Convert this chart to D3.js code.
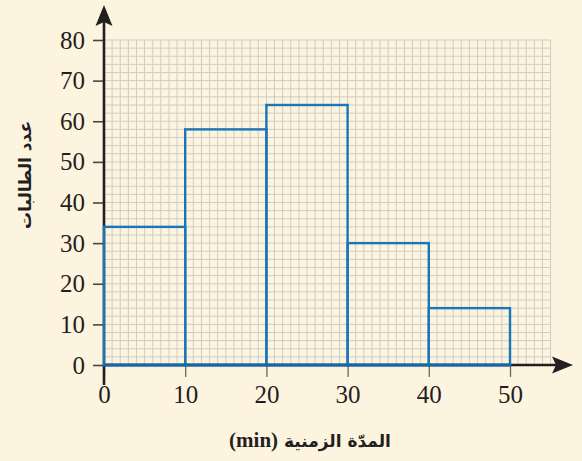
<!DOCTYPE html>
<html>
<head>
<meta charset="utf-8">
<script src="https://cdn.jsdelivr.net/npm/d3@7"></script>
<style>
  html, body { margin: 0; padding: 0; background: #fdf4e0; }
  svg { display: block; }
</style>
</head>
<body>
<svg id="chart" width="582" height="461"></svg>
<script>
// Histogram: duration classes (minutes) and number of students
const binStarts = [0, 10, 20, 30, 40];
const binWidth = 10;
const counts = [34, 58, 64, 30, 14];
const xTicks = [0, 10, 20, 30, 40, 50];
const yTicks = [0, 10, 20, 30, 40, 50, 60, 70, 80];
const xTitle = "المدّة الزمنية ";
const xUnit = "(min)";
const yTitle = "عدد الطالبات";

const svg = d3.select("#chart");
const W = 582, H = 461;
svg.append("rect").attr("width", W).attr("height", H).attr("fill", "#fdf4e0");

const x = d3.scaleLinear().domain([0, 55]).range([104, 550.6]);
const y = d3.scaleLinear().domain([0, 80]).range([365, 40]);

// Fine grid: 1 unit across, 2 units up
const grid = svg.append("g").attr("stroke", "#cfcbc6").attr("stroke-width", 1);
grid.selectAll("line.v").data(d3.range(0, 56, 1)).join("line")
  .attr("x1", d => x(d)).attr("x2", d => x(d))
  .attr("y1", y(80)).attr("y2", y(0));
grid.selectAll("line.h").data(d3.range(0, 81, 2)).join("line")
  .attr("x1", x(0)).attr("x2", x(55))
  .attr("y1", d => y(d)).attr("y2", d => y(d));

const axisColor = "#231f20";
const tickFont = "'Liberation Serif', 'Times New Roman', serif";

// Y axis ticks and labels
const yAxis = svg.append("g").attr("transform", `translate(${x(0)},0)`)
  .call(d3.axisLeft(y).tickValues(yTicks).tickSize(11).tickPadding(8));
yAxis.select(".domain").remove();
yAxis.selectAll(".tick line").attr("stroke", "#4a4646").attr("stroke-width", 1.6);
yAxis.selectAll(".tick text").attr("fill", axisColor)
  .style("font-family", tickFont).style("font-size", "25px");

// X axis ticks and labels
const xAxis = svg.append("g").attr("transform", `translate(0,${y(0)})`)
  .call(d3.axisBottom(x).tickValues(xTicks).tickSize(12).tickPadding(8));
xAxis.select(".domain").remove();
xAxis.selectAll(".tick line").attr("stroke", "#6a6666").attr("stroke-width", 1.3);
xAxis.selectAll(".tick text").attr("fill", axisColor)
  .style("font-family", tickFont).style("font-size", "25px");

// Axis lines with arrowheads
svg.append("line").attr("x1", x(0)).attr("x2", x(0)).attr("y1", 385).attr("y2", 20)
  .attr("stroke", axisColor).attr("stroke-width", 2.6);
svg.append("line").attr("x1", x(0)).attr("x2", 560).attr("y1", y(0)).attr("y2", y(0))
  .attr("stroke", axisColor).attr("stroke-width", 2.6);
const ax = x(0), ay = 5;
svg.append("path")
  .attr("d", `M${ax},${ay} L${ax + 8.5},${ay + 21} L${ax},${ay + 17} L${ax - 8.5},${ay + 21} Z`)
  .attr("fill", axisColor);
const bx = 573, by = y(0);
svg.append("path")
  .attr("d", `M${bx},${by} L${bx - 21},${by - 8.5} L${bx - 17},${by} L${bx - 21},${by + 8.5} Z`)
  .attr("fill", axisColor);

// Histogram bars (outlined)
svg.append("g").selectAll("rect").data(binStarts).join("rect")
  .attr("x", d => x(d))
  .attr("width", x(binWidth) - x(0))
  .attr("y", (d, i) => y(counts[i]))
  .attr("height", (d, i) => y(0) - y(counts[i]))
  .attr("fill", "none")
  .attr("stroke", "#1b75bb")
  .attr("stroke-width", 2.4);
svg.append("line").attr("x1", x(0)).attr("x2", x(50)).attr("y1", y(0)).attr("y2", y(0))
  .attr("stroke", "#1766a6").attr("stroke-width", 3);

// Axis titles
const xt = svg.append("text")
  .attr("x", 310).attr("y", 447)
  .attr("text-anchor", "middle")
  .attr("direction", "rtl")
  .attr("fill", axisColor)
  .style("font-family", "'DejaVu Sans', sans-serif")
  .style("font-weight", "bold")
  .style("font-size", "17px");
xt.append("tspan").text(xTitle);
xt.append("tspan").text(xUnit)
  .style("font-family", tickFont).style("font-size", "21px");

svg.append("text")
  .attr("transform", "translate(31,175) rotate(-90)")
  .attr("text-anchor", "middle")
  .attr("direction", "rtl")
  .attr("fill", axisColor)
  .style("font-family", "'DejaVu Sans', sans-serif")
  .style("font-weight", "bold")
  .style("font-size", "17px")
  .text(yTitle);
</script>
</body>
</html>
